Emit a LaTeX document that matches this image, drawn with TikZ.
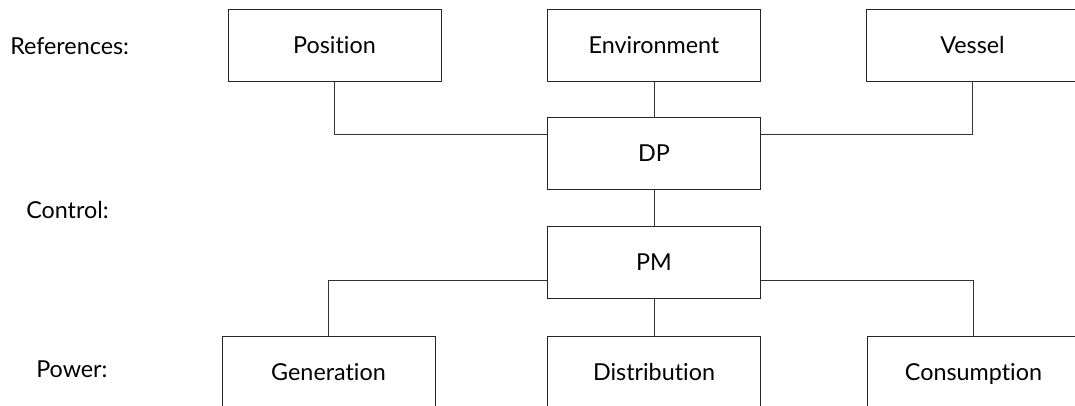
\documentclass[tikz,border=0pt]{standalone}
\usepackage{fontspec}
\setmainfont{Lato}[Ligatures=NoCommon]
\usetikzlibrary{calc}

\begin{document}
\begin{tikzpicture}[x=0.75pt, y=-0.75pt,
    block/.style={draw=black!85, line width=0.7pt, minimum width=159.75pt,
        minimum height=54pt, inner sep=0pt, text height=13pt, text depth=1pt,
        font=\fontsize{17.5}{21}\selectfont},
    level/.style={anchor=west, inner sep=0pt, font=\fontsize{17.5}{21}\selectfont},
    link/.style={draw=black!80, line width=0.65pt}]

% 描画範囲
\useasboundingbox (0,0) rectangle (1075,405);

%========================
% 段の名前
%========================
\node[level] (lref) at (10,46)  {References:};
\node[level] (lctl) at (26,210) {Control:};
\node[level] (lpow) at (36,369) {Power:};

%========================
% 参照ブロック
%========================
\node[block] (pos) at (334.5,45) {Position};
\node[block] (env) at (654,45)   {Environment};
\node[block] (ves) at (972.5,45) {Vessel};

%========================
% 制御ブロック
%========================
\node[block] (dp) at (654,153) {DP};
\node[block] (pm) at (654,262) {PM};

%========================
% 電力ブロック (下端は切れている)
%========================
\node[block] (gen)  at (328.5,372) {Generation};
\node[block] (dist) at (654,372)   {Distribution};
\node[block] (cons) at (973.5,372) {Consumption};

%========================
% 接続線
%========================
\draw[link] (pos.south) |- (dp.170);
\draw[link] (ves.south) |- (dp.10);
\draw[link] (env) -- (dp);
\draw[link] (dp) -- (pm);
\draw[link] (pm) -- (dist);
\draw[link] (pm.190) -| (gen.north);
\draw[link] (pm.350) -| (cons.north);

\end{tikzpicture}
\end{document}
